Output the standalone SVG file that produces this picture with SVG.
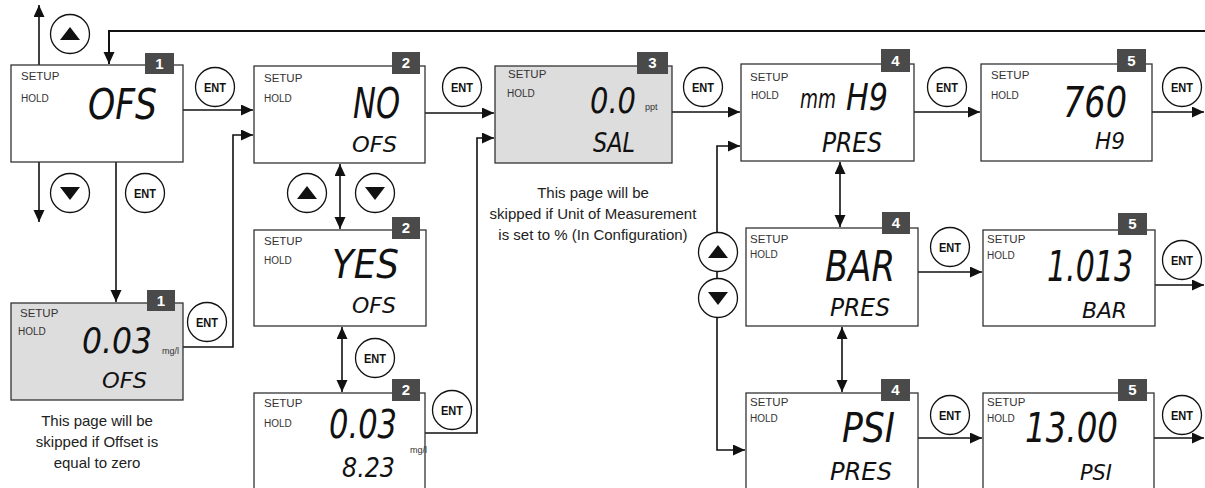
<svg xmlns="http://www.w3.org/2000/svg" width="1205" height="488" viewBox="0 0 1205 488">
<style>
.box{fill:#fff;stroke:#333;stroke-width:1.3}
.gray{fill:#dddddd}
.badge{fill:#4a4a4a}
.bt{font-family:"Liberation Sans",Arial,sans-serif;font-weight:bold;font-size:15px;fill:#fff;text-anchor:middle}
.su{font-family:"Liberation Sans",Arial,sans-serif;font-size:11.5px;fill:#333}
.ho{font-family:"Liberation Sans",Arial,sans-serif;font-size:10px;fill:#333}
.lcd{font-family:"DejaVu Sans","Liberation Sans",sans-serif;font-style:oblique;fill:#111}
.unit{font-family:"Liberation Sans",Arial,sans-serif;font-size:9px;fill:#333}
.note{font-family:"Liberation Sans",Arial,sans-serif;font-size:15px;fill:#222;text-anchor:middle}
.btn{fill:#fff;stroke:#111;stroke-width:1.3}
.ent{font-family:"Liberation Sans",Arial,sans-serif;font-weight:bold;font-size:12px;fill:#111;text-anchor:middle}
.tri{fill:#111}
.con{fill:none;stroke:#111;stroke-width:1.6}
</style>
<defs>
<marker id="ah" markerUnits="userSpaceOnUse" markerWidth="13" markerHeight="12" refX="12" refY="5.5" orient="auto-start-reverse">
<path d="M0,0 L12,5.5 L0,11 z" fill="#111"/>
</marker>
</defs>

<g id="connectors">
<path class="con" d="M39,65 V5" marker-end="url(#ah)"/>
<path class="con" d="M39,162 V222" marker-end="url(#ah)"/>
<path class="con" d="M116,162 V302" marker-end="url(#ah)"/>
<path class="con" style="stroke-width:2" d="M1205,31 H109 V64" marker-end="url(#ah)"/>
<path class="con" d="M183,110 H253" marker-end="url(#ah)"/>
<path class="con" d="M183,347 H233 V135 H253" marker-end="url(#ah)"/>
<path class="con" d="M340,164 V229" marker-start="url(#ah)" marker-end="url(#ah)"/>
<path class="con" d="M342,327 V392" marker-start="url(#ah)" marker-end="url(#ah)"/>
<path class="con" d="M425,113 H494" marker-end="url(#ah)"/>
<path class="con" d="M425,433 H477 V138 H494" marker-end="url(#ah)"/>
<path class="con" d="M672,112 H740" marker-end="url(#ah)"/>
<path class="con" d="M740,146 H717 V450 H745" marker-start="url(#ah)" marker-end="url(#ah)"/>
<path class="con" d="M840,162 V227" marker-start="url(#ah)" marker-end="url(#ah)"/>
<path class="con" d="M842,327 V392" marker-start="url(#ah)" marker-end="url(#ah)"/>
<path class="con" d="M914,112 H980" marker-end="url(#ah)"/>
<path class="con" d="M1152,112 H1204" marker-end="url(#ah)"/>
<path class="con" d="M918,272 H982" marker-end="url(#ah)"/>
<path class="con" d="M1155,285 H1204" marker-end="url(#ah)"/>
<path class="con" d="M918,438 H982" marker-end="url(#ah)"/>
<path class="con" d="M1154,438 H1204" marker-end="url(#ah)"/>
</g>

<g id="screen1">
<rect class="box" x="11" y="65" width="172" height="97"/>
<rect class="badge" x="145" y="53" width="29" height="21"/>
<text class="bt" x="159.5" y="69">1</text>
<text class="su" x="21" y="80">SETUP</text>
<text class="ho" x="21" y="102">HOLD</text>
<text class="lcd" x="88" y="119" font-size="42" textLength="69" lengthAdjust="spacingAndGlyphs">OFS</text>
</g>

<g id="screen1b">
<rect class="box gray" x="11" y="303" width="172" height="97"/>
<rect class="badge" x="147" y="290" width="28" height="21"/>
<text class="bt" x="161" y="306">1</text>
<text class="su" x="20" y="317">SETUP</text>
<text class="ho" x="18" y="335">HOLD</text>
<text class="lcd" x="82" y="353" font-size="35" textLength="70" lengthAdjust="spacingAndGlyphs">0.03</text>
<text class="unit" x="162" y="354">mg/l</text>
<text class="lcd" x="102" y="388" font-size="22" textLength="45" lengthAdjust="spacingAndGlyphs">OFS</text>
</g>
<g id="note1">
<text class="note" x="97" y="426">This page will be</text>
<text class="note" x="97" y="447">skipped if Offset is</text>
<text class="note" x="97" y="468">equal to zero</text>
</g>

<g id="screen2">
<rect class="box" x="254" y="66" width="171" height="97"/>
<rect class="badge" x="392" y="52" width="28" height="22"/>
<text class="bt" x="406" y="68">2</text>
<text class="su" x="264" y="82">SETUP</text>
<text class="ho" x="264" y="102">HOLD</text>
<text class="lcd" x="353" y="118" font-size="42" textLength="47" lengthAdjust="spacingAndGlyphs">NO</text>
<text class="lcd" x="352" y="152" font-size="22" textLength="45" lengthAdjust="spacingAndGlyphs">OFS</text>
</g>

<g id="screen2b">
<rect class="box" x="254" y="230" width="172" height="96"/>
<rect class="badge" x="392" y="217" width="28" height="22"/>
<text class="bt" x="406" y="233">2</text>
<text class="su" x="264" y="245">SETUP</text>
<text class="ho" x="264" y="264">HOLD</text>
<text class="lcd" x="332" y="278" font-size="39" textLength="67" lengthAdjust="spacingAndGlyphs">YES</text>
<text class="lcd" x="352" y="313" font-size="22" textLength="44" lengthAdjust="spacingAndGlyphs">OFS</text>
</g>

<g id="screen2c">
<rect class="box" x="254" y="393" width="171" height="110"/>
<rect class="badge" x="392" y="379" width="28" height="22"/>
<text class="bt" x="406" y="395">2</text>
<text class="su" x="264" y="407">SETUP</text>
<text class="ho" x="264" y="427">HOLD</text>
<text class="lcd" x="329" y="438" font-size="39" textLength="68" lengthAdjust="spacingAndGlyphs">0.03</text>
<text class="unit" x="410" y="453">mg/l</text>
<text class="lcd" x="342" y="477" font-size="26" textLength="53" lengthAdjust="spacingAndGlyphs">8.23</text>
</g>

<g id="screen3">
<rect class="box gray" x="495" y="66" width="177" height="97"/>
<rect class="badge" x="637" y="52" width="31" height="22"/>
<text class="bt" x="652.5" y="68">3</text>
<text class="su" x="508" y="78">SETUP</text>
<text class="ho" x="507" y="97">HOLD</text>
<text class="lcd" x="590" y="113" font-size="36" textLength="46" lengthAdjust="spacingAndGlyphs">0.0</text>
<text class="unit" x="645" y="110">ppt</text>
<text class="lcd" x="593" y="152" font-size="26" textLength="42" lengthAdjust="spacingAndGlyphs">SAL</text>
</g>
<g id="note3">
<text class="note" x="593" y="198">This page will be</text>
<text class="note" x="593" y="219">skipped if Unit of Measurement</text>
<text class="note" x="593" y="240">is set to % (In Configuration)</text>
</g>

<g id="screen4a">
<rect class="box" x="741" y="64" width="173" height="97"/>
<rect class="badge" x="881" y="49" width="29" height="23"/>
<text class="bt" x="895.5" y="66">4</text>
<text class="su" x="750" y="81">SETUP</text>
<text class="ho" x="751" y="99">HOLD</text>
<text class="lcd"><tspan x="800" y="108" font-size="26" textLength="36" lengthAdjust="spacingAndGlyphs">mm</tspan><tspan x="846" y="110" font-size="37" textLength="42" lengthAdjust="spacingAndGlyphs">H9</tspan></text>
<text class="lcd" x="822" y="152" font-size="26" textLength="60" lengthAdjust="spacingAndGlyphs">PRES</text>
</g>

<g id="screen5a">
<rect class="box" x="981" y="64" width="171" height="97"/>
<rect class="badge" x="1117" y="49" width="29" height="23"/>
<text class="bt" x="1131.5" y="66">5</text>
<text class="su" x="991" y="79">SETUP</text>
<text class="ho" x="991" y="99">HOLD</text>
<text class="lcd" x="1063" y="117" font-size="42" textLength="64" lengthAdjust="spacingAndGlyphs">760</text>
<text class="lcd" x="1095" y="149" font-size="23" textLength="30" lengthAdjust="spacingAndGlyphs">H9</text>
</g>

<g id="screen4b">
<rect class="box" x="746" y="228" width="172" height="98"/>
<rect class="badge" x="882" y="212" width="28" height="22"/>
<text class="bt" x="896" y="228">4</text>
<text class="su" x="750" y="243">SETUP</text>
<text class="ho" x="750" y="258">HOLD</text>
<text class="lcd" x="825" y="281" font-size="43" textLength="70" lengthAdjust="spacingAndGlyphs">BAR</text>
<text class="lcd" x="830" y="316" font-size="25" textLength="60" lengthAdjust="spacingAndGlyphs">PRES</text>
</g>

<g id="screen5b">
<rect class="box" x="983" y="230" width="172" height="96"/>
<rect class="badge" x="1118" y="213" width="29" height="22"/>
<text class="bt" x="1132.5" y="229">5</text>
<text class="su" x="987" y="243">SETUP</text>
<text class="ho" x="987" y="259">HOLD</text>
<text class="lcd" x="1047" y="281" font-size="43" textLength="86" lengthAdjust="spacingAndGlyphs">1.013</text>
<text class="lcd" x="1082" y="318" font-size="22" textLength="45" lengthAdjust="spacingAndGlyphs">BAR</text>
</g>

<g id="screen4c">
<rect class="box" x="746" y="393" width="172" height="110"/>
<rect class="badge" x="881" y="379" width="29" height="22"/>
<text class="bt" x="895.5" y="395">4</text>
<text class="su" x="750" y="406">SETUP</text>
<text class="ho" x="750" y="422">HOLD</text>
<text class="lcd" x="842" y="442" font-size="41" textLength="53" lengthAdjust="spacingAndGlyphs">PSI</text>
<text class="lcd" x="830" y="480" font-size="25" textLength="62" lengthAdjust="spacingAndGlyphs">PRES</text>
</g>

<g id="screen5c">
<rect class="box" x="983" y="393" width="171" height="110"/>
<rect class="badge" x="1118" y="379" width="29" height="22"/>
<text class="bt" x="1132.5" y="395">5</text>
<text class="su" x="987" y="406">SETUP</text>
<text class="ho" x="987" y="422">HOLD</text>
<text class="lcd" x="1025" y="442" font-size="40" textLength="93" lengthAdjust="spacingAndGlyphs">13.00</text>
<text class="lcd" x="1080" y="480" font-size="21" textLength="32" lengthAdjust="spacingAndGlyphs">PSI</text>
</g>

<g id="buttons">
<g id="btn-up1"><circle class="btn" cx="70" cy="34" r="19.5"/><path class="tri" d="M60,40 H80 L70,27 z"/></g>
<g id="btn-down1"><circle class="btn" cx="70" cy="193" r="19.5"/><path class="tri" d="M60,187 H80 L70,200 z"/></g>
<g id="btn-ent1"><circle class="btn" cx="145" cy="193" r="19.5"/><text class="ent" x="145" y="197.5" textLength="22" lengthAdjust="spacingAndGlyphs">ENT</text></g>
<g id="btn-ent2"><circle class="btn" cx="215" cy="87" r="19.5"/><text class="ent" x="215" y="91.5" textLength="22" lengthAdjust="spacingAndGlyphs">ENT</text></g>
<g id="btn-ent3"><circle class="btn" cx="207" cy="322" r="19.5"/><text class="ent" x="207" y="326.5" textLength="22" lengthAdjust="spacingAndGlyphs">ENT</text></g>
<g id="btn-ent4"><circle class="btn" cx="462" cy="87" r="19.5"/><text class="ent" x="462" y="91.5" textLength="22" lengthAdjust="spacingAndGlyphs">ENT</text></g>
<g id="btn-up2"><circle class="btn" cx="307" cy="193" r="19.5"/><path class="tri" d="M297,199 H317 L307,186 z"/></g>
<g id="btn-down2"><circle class="btn" cx="375" cy="193" r="19.5"/><path class="tri" d="M365,187 H385 L375,200 z"/></g>
<g id="btn-ent5"><circle class="btn" cx="375" cy="358" r="19.5"/><text class="ent" x="375" y="362.5" textLength="22" lengthAdjust="spacingAndGlyphs">ENT</text></g>
<g id="btn-ent6"><circle class="btn" cx="452" cy="410" r="19.5"/><text class="ent" x="452" y="414.5" textLength="22" lengthAdjust="spacingAndGlyphs">ENT</text></g>
<g id="btn-ent7"><circle class="btn" cx="703" cy="87" r="19.5"/><text class="ent" x="703" y="91.5" textLength="22" lengthAdjust="spacingAndGlyphs">ENT</text></g>
<g id="btn-ent8"><circle class="btn" cx="947" cy="87" r="19.5"/><text class="ent" x="947" y="91.5" textLength="22" lengthAdjust="spacingAndGlyphs">ENT</text></g>
<g id="btn-ent9"><circle class="btn" cx="1182" cy="87" r="19.5"/><text class="ent" x="1182" y="91.5" textLength="22" lengthAdjust="spacingAndGlyphs">ENT</text></g>
<g id="btn-up3"><circle class="btn" cx="718" cy="252" r="19.5"/><path class="tri" d="M708,258 H728 L718,245 z"/></g>
<g id="btn-down3"><circle class="btn" cx="718" cy="298" r="19.5"/><path class="tri" d="M708,292 H728 L718,305 z"/></g>
<g id="btn-ent10"><circle class="btn" cx="950" cy="247" r="19.5"/><text class="ent" x="950" y="251.5" textLength="22" lengthAdjust="spacingAndGlyphs">ENT</text></g>
<g id="btn-ent11"><circle class="btn" cx="1182" cy="260" r="19.5"/><text class="ent" x="1182" y="264.5" textLength="22" lengthAdjust="spacingAndGlyphs">ENT</text></g>
<g id="btn-ent12"><circle class="btn" cx="950" cy="415" r="19.5"/><text class="ent" x="950" y="419.5" textLength="22" lengthAdjust="spacingAndGlyphs">ENT</text></g>
<g id="btn-ent13"><circle class="btn" cx="1182" cy="415" r="19.5"/><text class="ent" x="1182" y="419.5" textLength="22" lengthAdjust="spacingAndGlyphs">ENT</text></g>
</g>
</svg>
